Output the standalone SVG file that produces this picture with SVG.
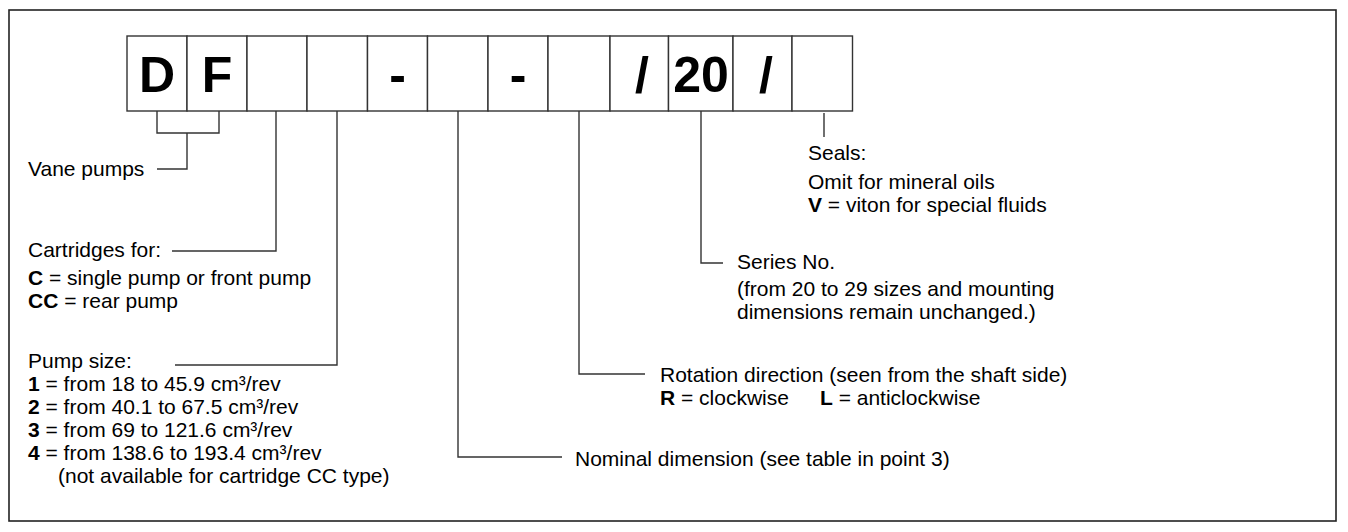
<svg xmlns="http://www.w3.org/2000/svg" width="1348" height="532" viewBox="0 0 1348 532">
<style>
.frame{fill:none;stroke:#222;stroke-width:1.6}
.cell{fill:#fff;stroke:#333;stroke-width:1.4}
.code{font-family:"Liberation Sans",Arial,sans-serif;font-weight:bold;font-size:50px;fill:#000;text-anchor:middle}
.lbl{font-family:"Liberation Sans",Arial,sans-serif;font-size:21px;fill:#000}
.b{font-weight:bold}
.conn{fill:none;stroke:#333;stroke-width:1.4}
</style>
<rect width="1348" height="532" fill="#fff"/>
<rect class="frame" x="9" y="10" width="1327" height="511"/>
<g id="code-boxes">
<g id="box-D"><rect class="cell" x="127" y="36" width="60" height="75"/><text class="code" x="157" y="92">D</text></g>
<g id="box-F"><rect class="cell" x="187" y="36" width="60" height="75"/><text class="code" x="217" y="92">F</text></g>
<g id="box-cartridge"><rect class="cell" x="247" y="36" width="60" height="75"/></g>
<g id="box-size"><rect class="cell" x="307" y="36" width="60.5" height="75"/></g>
<g id="box-dash1"><rect class="cell" x="367.5" y="36" width="60" height="75"/><text class="code" x="397.5" y="92">-</text></g>
<g id="box-nominal"><rect class="cell" x="427.5" y="36" width="60.5" height="75"/></g>
<g id="box-dash2"><rect class="cell" x="488" y="36" width="60" height="75"/><text class="code" x="518" y="92">-</text></g>
<g id="box-rotation"><rect class="cell" x="548" y="36" width="62" height="75"/></g>
<g id="box-slash1"><rect class="cell" x="610" y="36" width="58.5" height="75"/><text class="code" x="642" y="92">/</text></g>
<g id="box-series"><rect class="cell" x="668.5" y="36" width="64.5" height="75"/><text class="code" x="701" y="92">20</text></g>
<g id="box-slash2"><rect class="cell" x="733" y="36" width="59" height="75"/><text class="code" x="766" y="92">/</text></g>
<g id="box-seals"><rect class="cell" x="792" y="36" width="60.5" height="75"/></g>
</g>
<g id="connectors">
<path class="conn" d="M157,111 V133 H219 V111 M187,133 V169 H157"/>
<path class="conn" d="M276,111 V251 H172"/>
<path class="conn" d="M337,111 V365 H175"/>
<path class="conn" d="M458,111 V457 H562"/>
<path class="conn" d="M579,111 V374 H645"/>
<path class="conn" d="M701,111 V263 H723"/>
<path class="conn" d="M824,113 V137"/>
</g>
<g id="label-vane">
<text class="lbl" x="28" y="176">Vane pumps</text>
</g>
<g id="label-cartridges">
<text class="lbl" x="28" y="257">Cartridges for:</text>
<text class="lbl" x="28" y="285"><tspan class="b">C</tspan> = single pump or front pump</text>
<text class="lbl" x="28" y="308"><tspan class="b">CC</tspan> = rear pump</text>
</g>
<g id="label-size">
<text class="lbl" x="28" y="368">Pump size:</text>
<text class="lbl" x="28" y="391"><tspan class="b">1</tspan> = from 18 to 45.9 cm³/rev</text>
<text class="lbl" x="28" y="414"><tspan class="b">2</tspan> = from 40.1 to 67.5 cm³/rev</text>
<text class="lbl" x="28" y="437"><tspan class="b">3</tspan> = from 69 to 121.6 cm³/rev</text>
<text class="lbl" x="28" y="460"><tspan class="b">4</tspan> = from 138.6 to 193.4 cm³/rev</text>
<text class="lbl" x="58" y="483">(not available for cartridge CC type)</text>
</g>
<g id="label-nominal">
<text class="lbl" x="575" y="466">Nominal dimension (see table in point 3)</text>
</g>
<g id="label-rotation">
<text class="lbl" x="660" y="382">Rotation direction (seen from the shaft side)</text>
<text class="lbl" x="660" y="405"><tspan class="b">R</tspan> = clockwise</text>
<text class="lbl" x="820" y="405"><tspan class="b">L</tspan> = anticlockwise</text>
</g>
<g id="label-series">
<text class="lbl" x="737" y="269">Series No.</text>
<text class="lbl" x="737" y="296">(from 20 to 29 sizes and mounting</text>
<text class="lbl" x="737" y="319">dimensions remain unchanged.)</text>
</g>
<g id="label-seals">
<text class="lbl" x="808" y="160">Seals:</text>
<text class="lbl" x="808" y="189">Omit for mineral oils</text>
<text class="lbl" x="808" y="212"><tspan class="b">V</tspan> = viton for special fluids</text>
</g>
</svg>
